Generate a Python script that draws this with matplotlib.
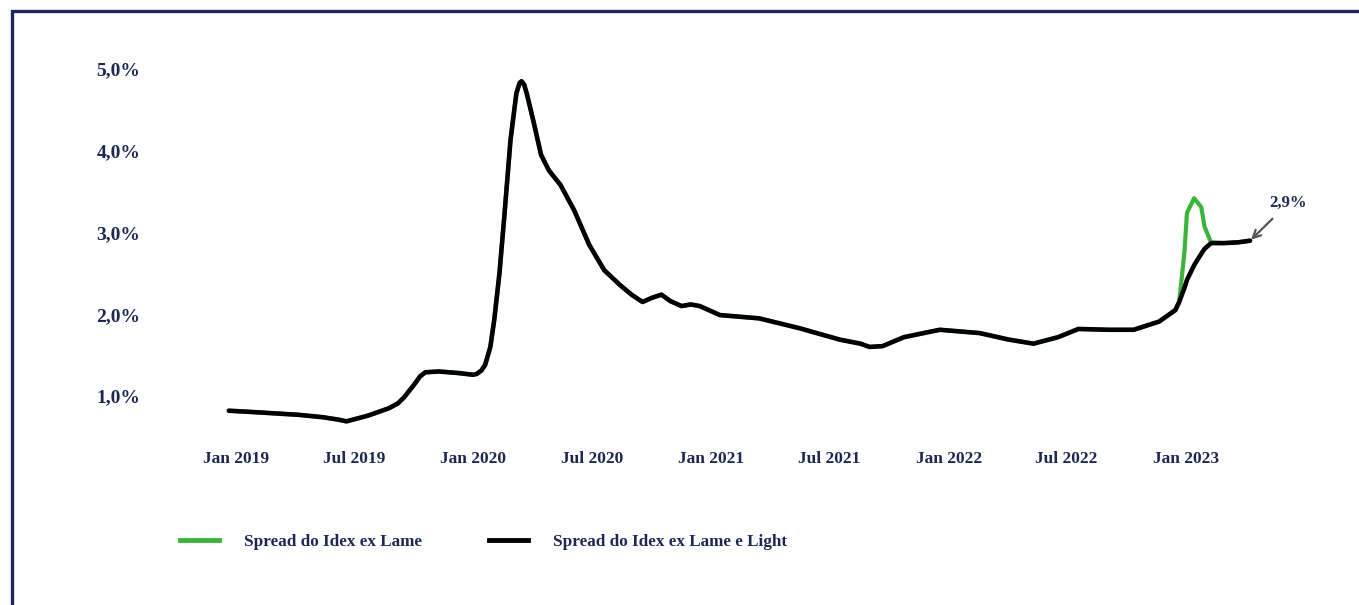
import matplotlib
matplotlib.use("Agg")
import matplotlib.pyplot as plt
import matplotlib.dates as mdates
import pandas as pd
from matplotlib.lines import Line2D
from matplotlib.patches import Rectangle

NAVY = "#1c2752"
GREEN = "#3cb43c"

dates = ["2018-12-21", "2019-02-04", "2019-04-07", "2019-05-15", "2019-06-08",
         "2019-06-20", "2019-07-23", "2019-08-24", "2019-09-07", "2019-09-16",
         "2019-10-01", "2019-10-11", "2019-10-19", "2019-11-09", "2019-12-10",
         "2019-12-31", "2020-01-06", "2020-01-13", "2020-01-19", "2020-01-27",
         "2020-02-02", "2020-02-10", "2020-02-17", "2020-02-27", "2020-03-07",
         "2020-03-12", "2020-03-15", "2020-03-19", "2020-03-23", "2020-04-02",
         "2020-04-14", "2020-04-26", "2020-05-14", "2020-06-04", "2020-06-27",
         "2020-07-20", "2020-08-13", "2020-08-31", "2020-09-17", "2020-10-01",
         "2020-10-16", "2020-10-30", "2020-11-16", "2020-11-30", "2020-12-14",
         "2021-01-14", "2021-03-15", "2021-05-16", "2021-07-17", "2021-08-18",
         "2021-09-01", "2021-09-21", "2021-10-24", "2021-12-18", "2022-02-17",
         "2022-04-03", "2022-05-11", "2022-06-18", "2022-07-19", "2022-09-04",
         "2022-10-12", "2022-11-20", "2022-12-15", "2022-12-21", "2022-12-29",
         "2023-01-02", "2023-01-13", "2023-01-24", "2023-01-29", "2023-02-08",
         "2023-02-27", "2023-03-22", "2023-04-09"]

# Spread do Idex ex Lame e Light (black)
spread_ex_lame_light = [0.82, 0.80, 0.77, 0.74, 0.71,
                        0.69, 0.76, 0.85, 0.91, 0.98,
                        1.13, 1.24, 1.29, 1.30, 1.28,
                        1.26, 1.27, 1.31, 1.38, 1.60,
                        1.93, 2.50, 3.15, 4.13, 4.70,
                        4.83, 4.85, 4.81, 4.70, 4.37,
                        3.95, 3.76, 3.58, 3.27, 2.85,
                        2.54, 2.36, 2.24, 2.15, 2.20,
                        2.24, 2.16, 2.10, 2.12, 2.10,
                        1.99, 1.95, 1.83, 1.69, 1.64,
                        1.60, 1.61, 1.72, 1.81, 1.77,
                        1.69, 1.64, 1.72, 1.82, 1.81,
                        1.81, 1.91, 2.05, 2.15, 2.32,
                        2.42, 2.60, 2.74, 2.80, 2.87,
                        2.87, 2.88, 2.90]

# Spread do Idex ex Lame (green)
spread_ex_lame = spread_ex_lame_light[:64] + [2.75, 3.24, 3.42, 3.31, 3.07, 2.88,
                                              2.87, 2.88, 2.90]

tick_dates = ["2019-01-01", "2019-07-01", "2020-01-01", "2020-07-01", "2021-01-01",
              "2021-07-01", "2022-01-01", "2022-07-01", "2023-01-01"]
tick_labels = ["Jan 2019", "Jul 2019", "Jan 2020", "Jul 2020", "Jan 2021",
               "Jul 2021", "Jan 2022", "Jul 2022", "Jan 2023"]
y_ticks = [1, 2, 3, 4, 5]
y_labels = ["1,0%", "2,0%", "3,0%", "4,0%", "5,0%"]

x = pd.to_datetime(dates)

plt.rcParams["font.family"] = ["Liberation Serif", "DejaVu Serif"]
plt.rcParams["font.weight"] = "bold"

W, H = 1359, 605
fig = plt.figure(figsize=(W / 100, H / 100), dpi=100, facecolor="white")

# frame (only top and left edges visible in the crop)
fig.add_artist(Rectangle((11.5 / W, -0.1), 1.2, 1 - 11 / H + 0.1,
                         transform=fig.transFigure, fill=False,
                         ec=NAVY, lw=2.4, zorder=0))

ax = fig.add_axes([160 / W, 1 - 440 / H, (1330 - 160) / W, 400 / H])

ax.plot(x, spread_ex_lame, color=GREEN, lw=3.0, solid_joinstyle="round",
        solid_capstyle="round")
ax.plot(x, spread_ex_lame_light, color="black", lw=3.3, solid_joinstyle="round",
        solid_capstyle="round")

# x mapping: Jan 2019 at px 236, ~19.8 px per month
px_per_day = 19.8 / 30.44
x0 = mdates.date2num(pd.Timestamp("2019-01-01"))
ax.set_xlim(x0 - (236 - 160) / px_per_day, x0 + (1330 - 236) / px_per_day)
ax.set_ylim(1 + (396 - 440) / 81.75, 1 + (396 - 40) / 81.75)

ax.set_xticks(pd.to_datetime(tick_dates))
ax.set_xticklabels(tick_labels, fontsize=12.5, color=NAVY, fontweight="bold")
ax.set_yticks(y_ticks)
ax.set_yticklabels(y_labels, fontsize=14, color=NAVY, fontweight="bold")
ax.tick_params(axis="both", length=0)
ax.tick_params(axis="x", pad=8)
ax.tick_params(axis="y", pad=14)
for s in ax.spines.values():
    s.set_visible(False)

ax.annotate("2,9%", xy=(x[-1], spread_ex_lame_light[-1]),
            xytext=(pd.Timestamp("2023-06-07"), 3.36),
            fontsize=12, color=NAVY, fontweight="bold", ha="center", va="center",
            arrowprops=dict(arrowstyle="->", color="#555555", lw=1.6,
                            shrinkA=5, shrinkB=1, mutation_scale=14))

handles = [Line2D([], [], color=GREEN, lw=3.5),
           Line2D([], [], color="black", lw=3.5)]
leg = fig.legend(handles, ["Spread do Idex ex Lame", "Spread do Idex ex Lame e Light"],
                 loc="center left", bbox_to_anchor=(180 / W, 1 - 542 / H),
                 ncol=2, frameon=False, handlelength=2.27, handletextpad=1.45,
                 columnspacing=3.9, borderaxespad=0, borderpad=0,
                 prop={"size": 12.35, "weight": "bold"})
for t in leg.get_texts():
    t.set_color(NAVY)

fig.savefig("out.png", dpi=100, facecolor="white")
